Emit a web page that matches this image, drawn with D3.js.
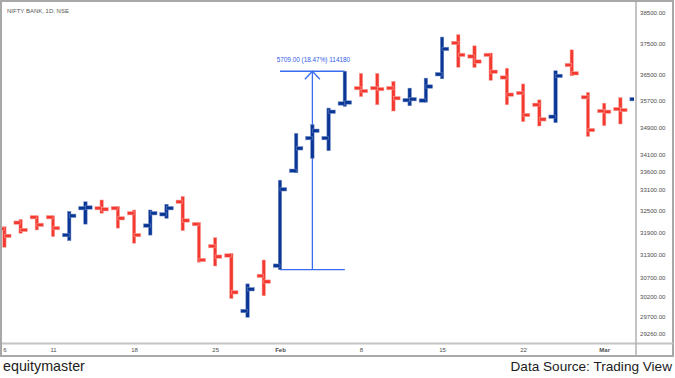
<!DOCTYPE html>
<html>
<head>
<meta charset="utf-8">
<script src="https://cdn.jsdelivr.net/npm/d3@7/dist/d3.min.js"></script>
<style>
  html, body { margin: 0; padding: 0; background: #fff; }
  svg { display: block; }
</style>
</head>
<body>
<svg id="chart" width="675" height="378"></svg>
<script>
const dates = ["2021-01-06","2021-01-07","2021-01-08","2021-01-11","2021-01-12","2021-01-13","2021-01-14","2021-01-15",
  "2021-01-18","2021-01-19","2021-01-20","2021-01-21","2021-01-22","2021-01-25","2021-01-27","2021-01-28","2021-01-29",
  "2021-02-01","2021-02-02","2021-02-03","2021-02-04","2021-02-05","2021-02-08","2021-02-09","2021-02-10","2021-02-11",
  "2021-02-12","2021-02-15","2021-02-16","2021-02-17","2021-02-18","2021-02-19","2021-02-22","2021-02-23","2021-02-24",
  "2021-02-25","2021-02-26","2021-03-01","2021-03-02","2021-03-03"];
const openV  = [32000,32170,32320,32320,31830,32570,32570,32570,32430,32090,32400,32750,32130,31530,31280,29830,30740,
  31010,33630,34580,34580,35620,36090,36090,36090,35720,35710,36520,37510,37080,37130,36420,35940,35580,35220,36810,35810,35390,35450,35750];
const highV  = [32060,32260,32360,32360,32480,32750,32800,32620,32520,32520,32680,32900,32180,31760,31340,30530,31160,
  33360,34720,34980,35480,36615,36550,36550,36300,36090,36400,37700,37780,37420,37190,36710,36220,35730,36630,37290,35960,35630,35800,36400];
const lowV   = [31500,31880,31970,31790,31680,32130,32430,32020,31610,31830,32290,31950,31100,31000,30150,29670,30220,
  30906,33570,33990,34210,35530,35830,35580,35390,35550,35660,36380,36740,36730,36330,35580,35070,34940,35040,36470,34630,34950,35000,35700];
const closeV = [31810,31970,32110,32020,32360,32590,32540,32290,31830,32430,32570,32230,31160,31250,30310,30390,30590,
  33100,34280,34800,35370,35650,36000,36060,35780,35750,36140,37320,37130,36920,36600,35890,35270,35140,36470,36550,34820,35370,35420,36300];

const yTicks = [38500,37500,36500,35700,34900,34100,33600,33100,32500,31900,31300,30700,30200,29700,29260];
const xTickDates  = ["2021-01-06","2021-01-11","2021-01-18","2021-01-25","2021-02-01","2021-02-08","2021-02-15","2021-02-22","2021-03-01"];
const xTickLabels = ["6","11","18","25","Feb","8","15","22","Mar"];

const chartTitle = "NIFTY BANK, 1D, NSE";
const measureFrom = "2021-02-01", measureTo = "2021-02-05";
const measureLow = 30906, measureHigh = 36615;
const measureExtra = "114180";
const brandText = "equitymaster";
const sourceText = "Data Source: Trading View";

const svg = d3.select("#chart");
const plotRight = 635.5, plotBottom = 343;

const x = d3.scalePoint().domain(dates).range([4.4, 636.6]);
const y = d3.scaleLog().domain([29260, 38500]).range([333.6, 12.5]);

const UP = "#0a3795", DOWN = "#f43a30";
const UP_HALO = "#6f87c4", DOWN_HALO = "#f9a7a2";

svg.append("defs").append("clipPath").attr("id", "plotClip")
  .append("rect").attr("x", 2).attr("y", 2).attr("width", 632).attr("height", plotBottom - 3);

// frame
svg.append("rect").attr("x", 1).attr("y", 1).attr("width", 672).attr("height", 355)
  .attr("fill", "none").attr("stroke", "#a8a8a8").attr("stroke-width", 2);
svg.append("line").attr("x1", 2).attr("x2", 673).attr("y1", plotBottom + 0.5).attr("y2", plotBottom + 0.5)
  .attr("stroke", "#c4c4c4").attr("stroke-width", 2);
svg.append("line").attr("x1", plotRight + 0.5).attr("x2", plotRight + 0.5).attr("y1", 2).attr("y2", 356)
  .attr("stroke", "#b0b0b0").attr("stroke-width", 1.5);

const bars = dates.map((d, i) => ({d, o: openV[i], h: highV[i], l: lowV[i], c: closeV[i]}));

const g = svg.append("g").attr("clip-path", "url(#plotClip)");

// annotation (behind bars)
const ax1 = x(measureFrom), ax2 = x(measureTo), axm = (ax1 + ax2) / 2;
const ayL = y(measureLow), ayH = y(measureHigh);
const annColor = "#3a6cf2";
const ann = g.append("g").attr("stroke", annColor).attr("stroke-width", 1.3).attr("fill", "none");
ann.append("line").attr("x1", ax1).attr("x2", ax2).attr("y1", ayH).attr("y2", ayH);
ann.append("line").attr("x1", ax1).attr("x2", ax2).attr("y1", ayL).attr("y2", ayL);
ann.append("line").attr("x1", axm).attr("x2", axm).attr("y1", ayL).attr("y2", ayH);
ann.append("path").attr("d", `M${axm - 7.5},${ayH + 8} L${axm},${ayH} L${axm + 7.5},${ayH + 8}`);
const diff = measureHigh - measureLow;
g.append("text").attr("x", axm + 1).attr("y", ayH - 9)
  .attr("text-anchor", "middle").attr("font-family", "Liberation Sans, Arial, sans-serif")
  .attr("font-size", 6.4).attr("fill", "#2f5ee8")
  .text(`${diff.toFixed(2)} (${(diff / measureLow * 100).toFixed(2)}%) ${measureExtra}`);

// OHLC bars
const bw = 3.4, tick = 5;
const bg = g.selectAll("g.bar").data(bars).join("g").attr("class", "bar");
bg.each(function(b) {
  const sel = d3.select(this);
  const cx = x(b.d);
  const up = b.c >= b.o;
  const col = up ? UP : DOWN, halo = up ? UP_HALO : DOWN_HALO;
  const rects = [
    [cx - bw / 2, y(b.h), bw, y(b.l) - y(b.h)],
    [cx - bw / 2 - tick, y(b.o) - bw / 2, tick + bw / 2, bw],
    [cx, y(b.c) - bw / 2, tick + bw / 2, bw]
  ];
  rects.forEach(r => sel.append("rect").attr("x", r[0]).attr("y", r[1]).attr("width", r[2]).attr("height", r[3])
    .attr("fill", col).attr("stroke", halo).attr("stroke-width", 0.5));
});

// title
svg.append("text").attr("x", 7).attr("y", 13.4).attr("font-family", "Liberation Sans, Arial, sans-serif")
  .attr("font-size", 6).attr("fill", "#555").text(chartTitle);

// y axis
const yAxis = d3.axisRight(y).tickValues(yTicks).tickFormat(d3.format(".2f")).tickSize(0).tickPadding(0);
const yg = svg.append("g").attr("transform", `translate(640,0)`).call(yAxis);
yg.select(".domain").remove();
yg.selectAll("text").attr("font-family", "Liberation Sans, Arial, sans-serif").attr("font-size", 6.1)
  .attr("fill", "#4d4d4d").attr("x", 0);

// x axis
const xAxis = d3.axisBottom(x).tickValues(xTickDates).tickFormat((d, i) => xTickLabels[i]).tickSize(0).tickPadding(0);
const xg = svg.append("g").attr("transform", `translate(0,${plotBottom + 5})`).call(xAxis);
xg.select(".domain").remove();
xg.selectAll("text").attr("font-family", "Liberation Sans, Arial, sans-serif").attr("font-size", 6)
  .attr("fill", "#4d4d4d").attr("font-weight", (d, i) => isNaN(+xTickLabels[i]) ? "bold" : "normal");

// footer
svg.append("text").attr("x", 3).attr("y", 370.5).attr("font-family", "Liberation Sans, Arial, sans-serif")
  .attr("font-size", 14.3).attr("fill", "#1c1c1c").text(brandText);
svg.append("text").attr("x", 672).attr("y", 370.5).attr("text-anchor", "end")
  .attr("font-family", "Liberation Sans, Arial, sans-serif")
  .attr("font-size", 13.6).attr("fill", "#1c1c1c").text(sourceText);
</script>
</body>
</html>
